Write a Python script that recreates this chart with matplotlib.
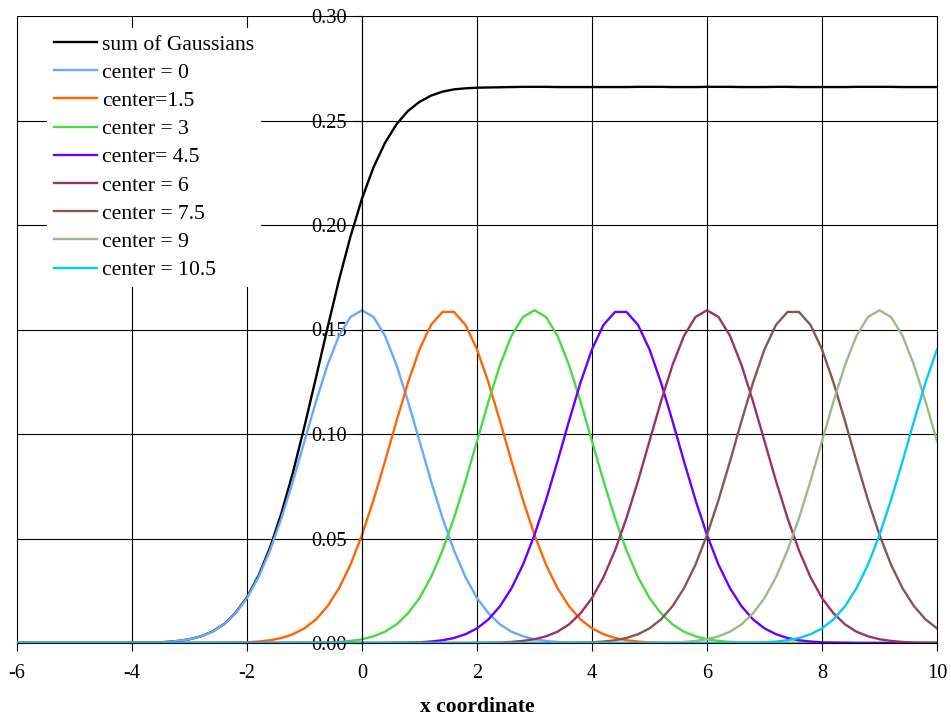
import matplotlib
matplotlib.use("Agg")
import matplotlib.pyplot as plt
import numpy as np

# x sampling: -6 to 10 step 0.2 (81 points)
x_vals = np.round(np.linspace(-6, 10, 81), 2)

sum_gauss = [
    0, 0, 0, 0, 0, 0, 0, 0, 0, 0,
    .0001, .0001, .0002, .0005, .0010, .0018, .0032, .0055, .0090, .0144,
    .0219, .0322, .0456, .0622, .0817, .1037, .1270, .1508, .1737, .1945,
    .2127, .2276, .2393, .2482, .2546, .2589, .2619, .2638, .2649, .2654,
    .2657, .2658, .2659, .2660, .2661, .2661, .2661, .2660, .2660, .2660,
    .2660, .2660, .2660, .2660, .2661, .2661, .2661, .2660, .2660, .2660,
    .2661, .2661, .2661, .2660, .2660, .2660, .2661, .2661, .2660, .2660,
    .2660, .2660, .2660, .2661, .2661, .2661, .2661, .2660, .2660, .2660,
    .2660,
]
c0 = [
    0, 0, 0, 0, 0, 0, 0, 0, 0, 0,
    .0001, .0001, .0002, .0005, .0010, .0018, .0032, .0054, .0089, .0142,
    .0215, .0315, .0443, .0598, .0775, .0966, .1156, .1330, .1470, .1560,
    .1592, .1560, .1470, .1330, .1156, .0966, .0775, .0598, .0443, .0315,
    .0215, .0142, .0089, .0054, .0032, .0018, .0010, .0005, .0002, .0001,
    .0001, 0, 0, 0, 0, 0, 0, 0, 0, 0,
    0, 0, 0, 0, 0, 0, 0, 0, 0, 0,
    0, 0, 0, 0, 0, 0, 0, 0, 0, 0,
    0,
]
c1_5 = [
    0, 0, 0, 0, 0, 0, 0, 0, 0, 0,
    0, 0, 0, 0, 0, 0, 0, 0, .0001, .0002,
    .0003, .0007, .0013, .0024, .0042, .0070, .0113, .0176, .0262, .0375,
    .0517, .0684, .0869, .1062, .1246, .1405, .1522, .1584, .1584, .1522,
    .1405, .1246, .1062, .0869, .0684, .0517, .0375, .0262, .0176, .0113,
    .0070, .0042, .0024, .0013, .0007, .0003, .0002, .0001, 0, 0,
    0, 0, 0, 0, 0, 0, 0, 0, 0, 0,
    0, 0, 0, 0, 0, 0, 0, 0, 0, 0,
    0,
]
c3 = [
    0, 0, 0, 0, 0, 0, 0, 0, 0, 0,
    0, 0, 0, 0, 0, 0, 0, 0, 0, 0,
    0, 0, 0, 0, 0, .0001, .0001, .0002, .0005, .0010,
    .0018, .0032, .0054, .0089, .0142, .0215, .0315, .0443, .0598, .0775,
    .0966, .1156, .1330, .1470, .1560, .1592, .1560, .1470, .1330, .1156,
    .0966, .0775, .0598, .0443, .0315, .0215, .0142, .0089, .0054, .0032,
    .0018, .0010, .0005, .0002, .0001, .0001, 0, 0, 0, 0,
    0, 0, 0, 0, 0, 0, 0, 0, 0, 0,
    0,
]
c4_5 = [
    0, 0, 0, 0, 0, 0, 0, 0, 0, 0,
    0, 0, 0, 0, 0, 0, 0, 0, 0, 0,
    0, 0, 0, 0, 0, 0, 0, 0, 0, 0,
    0, 0, 0, .0001, .0002, .0003, .0007, .0013, .0024, .0042,
    .0070, .0113, .0176, .0262, .0375, .0517, .0684, .0869, .1062, .1246,
    .1405, .1522, .1584, .1584, .1522, .1405, .1246, .1062, .0869, .0684,
    .0517, .0375, .0262, .0176, .0113, .0070, .0042, .0024, .0013, .0007,
    .0003, .0002, .0001, 0, 0, 0, 0, 0, 0, 0,
    0,
]
c6 = [
    0, 0, 0, 0, 0, 0, 0, 0, 0, 0,
    0, 0, 0, 0, 0, 0, 0, 0, 0, 0,
    0, 0, 0, 0, 0, 0, 0, 0, 0, 0,
    0, 0, 0, 0, 0, 0, 0, 0, 0, 0,
    .0001, .0001, .0002, .0005, .0010, .0018, .0032, .0054, .0089, .0142,
    .0215, .0315, .0443, .0598, .0775, .0966, .1156, .1330, .1470, .1560,
    .1592, .1560, .1470, .1330, .1156, .0966, .0775, .0598, .0443, .0315,
    .0215, .0142, .0089, .0054, .0032, .0018, .0010, .0005, .0002, .0001,
    .0001,
]
c7_5 = [
    0, 0, 0, 0, 0, 0, 0, 0, 0, 0,
    0, 0, 0, 0, 0, 0, 0, 0, 0, 0,
    0, 0, 0, 0, 0, 0, 0, 0, 0, 0,
    0, 0, 0, 0, 0, 0, 0, 0, 0, 0,
    0, 0, 0, 0, 0, 0, 0, 0, .0001, .0002,
    .0003, .0007, .0013, .0024, .0042, .0070, .0113, .0176, .0262, .0375,
    .0517, .0684, .0869, .1062, .1246, .1405, .1522, .1584, .1584, .1522,
    .1405, .1246, .1062, .0869, .0684, .0517, .0375, .0262, .0176, .0113,
    .0070,
]
c9 = [
    0, 0, 0, 0, 0, 0, 0, 0, 0, 0,
    0, 0, 0, 0, 0, 0, 0, 0, 0, 0,
    0, 0, 0, 0, 0, 0, 0, 0, 0, 0,
    0, 0, 0, 0, 0, 0, 0, 0, 0, 0,
    0, 0, 0, 0, 0, 0, 0, 0, 0, 0,
    0, 0, 0, 0, 0, .0001, .0001, .0002, .0005, .0010,
    .0018, .0032, .0054, .0089, .0142, .0215, .0315, .0443, .0598, .0775,
    .0966, .1156, .1330, .1470, .1560, .1592, .1560, .1470, .1330, .1156,
    .0966,
]
c10_5 = [
    0, 0, 0, 0, 0, 0, 0, 0, 0, 0,
    0, 0, 0, 0, 0, 0, 0, 0, 0, 0,
    0, 0, 0, 0, 0, 0, 0, 0, 0, 0,
    0, 0, 0, 0, 0, 0, 0, 0, 0, 0,
    0, 0, 0, 0, 0, 0, 0, 0, 0, 0,
    0, 0, 0, 0, 0, 0, 0, 0, 0, 0,
    0, 0, 0, .0001, .0002, .0003, .0007, .0013, .0024, .0042,
    .0070, .0113, .0176, .0262, .0375, .0517, .0684, .0869, .1062, .1246,
    .1405,
]

series_labels = ["sum of Gaussians", "center = 0", "center=1.5", "center = 3",
                 "center= 4.5", "center = 6", "center = 7.5", "center = 9",
                 "center = 10.5"]
series_data = [sum_gauss, c0, c1_5, c3, c4_5, c6, c7_5, c9, c10_5]
series_colors = ["#000000", "#66aaff", "#ff6600", "#44dd44", "#6600ff",
                 "#993366", "#885555", "#99bb88", "#00ccff"]

x_ticks = [-6, -4, -2, 0, 2, 4, 6, 8, 10]
y_ticks = [0.00, 0.05, 0.10, 0.15, 0.20, 0.25, 0.30]

plt.rcParams['font.family'] = ['Liberation Serif', 'DejaVu Serif']

fig = plt.figure(figsize=(9.51, 7.17), dpi=100)
ax = fig.add_axes([17 / 951, 1 - 643 / 717, 920 / 951, 627 / 717])

for data, lab, col in zip(series_data, series_labels, series_colors):
    ax.plot(x_vals, data, color=col, lw=1.7, label=lab)

ax.set_xlim(-6, 10)
ax.set_ylim(0, 0.30)
ax.set_xticks(x_ticks)
ax.set_yticks(y_ticks)
ax.set_xticklabels([str(t) for t in x_ticks])
ax.set_yticklabels([f"{t:.2f}" for t in y_ticks])

ax.set_axisbelow(True)
ax.grid(True, color='black', lw=0.8)
for gl in ax.get_xgridlines() + ax.get_ygridlines():
    gl.set_clip_on(False)

ax.spines['left'].set_position(('data', 0))
ax.spines['right'].set_visible(False)
ax.spines['top'].set_visible(False)
ax.spines['bottom'].set_linewidth(0.8)
ax.spines['left'].set_linewidth(0.8)

ax.tick_params(axis='both', direction='out', length=6, width=0.8,
               labelsize=14.7, colors='black')
ax.tick_params(axis='y', pad=5)
ax.tick_params(axis='x', pad=9)

ax.set_xlabel("x coordinate", fontsize=15.5, fontweight='bold', labelpad=10)

leg = ax.legend(loc='upper left', bbox_to_anchor=(30 / 920, 1 - 12 / 627),
                borderaxespad=0, frameon=True, fancybox=False,
                edgecolor='none', facecolor='white', framealpha=1,
                fontsize=15.6, handlelength=2.0, handletextpad=0.25,
                labelspacing=0.37, borderpad=0.3)

fig.savefig("out.png", dpi=100)
